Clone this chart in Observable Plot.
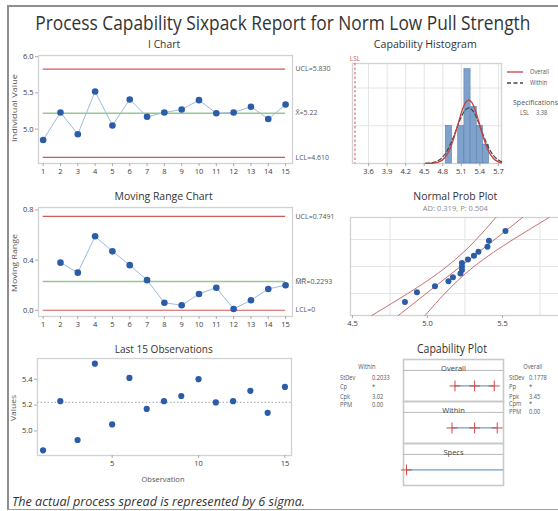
<!DOCTYPE html>
<html><head><meta charset="utf-8">
<script src="https://cdn.jsdelivr.net/npm/d3@7"></script>
<script src="https://cdn.jsdelivr.net/npm/@observablehq/plot@0.6"></script>
<style>
body{margin:0;background:#fff;}
#root{position:relative;width:558px;height:511px;overflow:hidden;background:#fff;font-family:"Open Sans",sans-serif;}
</style></head><body><div id="root"></div>
<script>
// ---------------- data ----------------
const observation = [1,2,3,4,5,6,7,8,9,10,11,12,13,14,15];
const individualValue = [4.85,5.23,4.93,5.52,5.05,5.41,5.17,5.23,5.27,5.40,5.22,5.23,5.31,5.14,5.34];
const movingRange = [null,0.38,0.30,0.59,0.47,0.36,0.24,0.06,0.04,0.13,0.18,0.01,0.08,0.17,0.20];
const iUCL = 5.830, iMean = 5.22, iLCL = 4.610;
const mrUCL = 0.7491, mrMean = 0.2293, mrLCL = 0;
const iYTicks = [5.0,5.5,6.0];
const mrYTicks = [0.0,0.4,0.8];
const lastYTicks = [5.0,5.2,5.4];
const lastXTicks = [5,10,15];

const histBinStart = [4.85,4.95,5.05,5.15,5.25,5.35,5.45];
const histCount = [2,0,2,5,3,2,1];
const histBinWidth = 0.1;
const histXTicks = [3.6,3.9,4.2,4.5,4.8,5.1,5.4,5.7];
const histYGrid = [2,4];
const curveX = [4.52,4.57,4.62,4.67,4.72,4.77,4.82,4.87,4.92,4.97,5.02,5.07,5.12,5.17,5.22,5.27,5.32,5.37,5.42,5.47,5.52,5.57,5.62,5.67,5.72,5.75];
const overallCurve = [0.0015,0.0042,0.0113,0.0282,0.0646,0.137,0.268,0.485,0.811,1.253,1.788,2.358,2.874,3.235,3.366,3.235,2.874,2.358,1.788,1.253,0.811,0.485,0.268,0.137,0.0646,0.0396];
const withinCurve = [0.0078,0.0177,0.0378,0.0758,0.143,0.254,0.425,0.669,0.991,1.382,1.815,2.242,2.608,2.856,2.944,2.856,2.608,2.242,1.815,1.382,0.991,0.669,0.425,0.254,0.143,0.0985];
const LSL = 3.38;

const probPercent = [4.55,11.04,17.53,24.03,30.52,37.01,43.51,50,56.49,62.99,69.48,75.97,82.47,88.96,95.45];
const bandPercent = [1,4,10,25,50,75,90,96,99];
const bandLower = [4.629,4.762,4.869,5.000,5.130,5.240,5.325,5.385,5.456];
const bandUpper = [4.984,5.055,5.116,5.201,5.310,5.440,5.571,5.678,5.811];
const fitPercent = [1,99];
const fitValue = [4.806,5.634];
const probXTicks = [4.5,5.0,5.5];
const probXGrid = [4.75,5.25,5.75];
const probYGrid = [10,50,90];

const capSection = ["Overall","Within","Specs"];
const capRowSection = ["Overall","Within"];
const capLow = [4.69,4.61];
const capMid = [5.22,5.22];
const capHigh = [5.75,5.83];

const withinLabels = ["StDev","Cp","Cpk","PPM"];
const withinValues = ["0.2033","*","3.02","0.00"];
const overallLabels = ["StDev","Pp","Ppk","Cpm","PPM"];
const overallValues = ["0.1778","*","3.45","*","0.00"];

// ---------------- helpers ----------------
const root = document.getElementById("root");
const FONT = "'Open Sans', sans-serif";
const RED = "#cf5a58", GREEN = "#97c78f", PT = "#2b5ca8", LINEB = "#9dbbdc", FRAME = "#d2d2d2", TXT = "#3a3a3a";
const TICKFS = 7.5;

function probit(p){
  const a=[-3.969683028665376e+01,2.209460984245205e+02,-2.759285104469687e+02,1.383577518672690e+02,-3.066479806614716e+01,2.506628277459239e+00];
  const b=[-5.447609879822406e+01,1.615858368580409e+02,-1.556989798598866e+02,6.680131188771972e+01,-1.328068155288572e+01];
  const c=[-7.784894002430293e-03,-3.223964580411365e-01,-2.400758277161838e+00,-2.549732539343734e+00,4.374664141464968e+00,2.938163982698783e+00];
  const d=[7.784695709041462e-03,3.224671290700398e-01,2.445134137142996e+00,3.754408661907416e+00];
  const pl=0.02425, ph=1-pl; let q,r;
  if(p<pl){q=Math.sqrt(-2*Math.log(p));return (((((c[0]*q+c[1])*q+c[2])*q+c[3])*q+c[4])*q+c[5])/((((d[0]*q+d[1])*q+d[2])*q+d[3])*q+1);}
  if(p<=ph){q=p-0.5;r=q*q;return (((((a[0]*r+a[1])*r+a[2])*r+a[3])*r+a[4])*r+a[5])*q/(((((b[0]*r+b[1])*r+b[2])*r+b[3])*r+b[4])*r+1);}
  q=Math.sqrt(-2*Math.log(1-p));return -(((((c[0]*q+c[1])*q+c[2])*q+c[3])*q+c[4])*q+c[5])/((((d[0]*q+d[1])*q+d[2])*q+d[3])*q+1);
}

function label(text, cx, cy, o={}){
  const {size=11, color="#333", width=null, sx=null, anchor="middle", italic=false, rotate=0} = o;
  const el = document.createElement("div");
  el.textContent = text;
  el.style.cssText = `position:absolute;white-space:nowrap;font-size:${size}px;line-height:1;color:${color};font-family:${FONT};${italic?"font-style:italic;":""}`;
  root.append(el);
  const r = el.getBoundingClientRect();
  const w = r.width, h = r.height;
  const k = width ? width / w : (sx || 1);
  const left = anchor==="middle" ? cx - w/2 : anchor==="start" ? cx : cx - w;
  el.style.left = left + "px";
  el.style.top = (cy - h/2) + "px";
  el.style.transformOrigin = anchor==="middle" ? "50% 50%" : anchor==="start" ? "0 50%" : "100% 50%";
  el.style.transform = `rotate(${rotate}deg) scaleX(${k})`;
  return el;
}

function place(svg, left, top){
  svg.style.position = "absolute";
  svg.style.left = left + "px";
  svg.style.top = top + "px";
  root.append(svg);
}
const baseStyle = {background:"transparent", maxWidth:"none", overflow:"visible", fontFamily:FONT, fontSize:"7px", color:TXT};

// ---------------- border ----------------
const border = document.createElement("div");
border.style.cssText = "position:absolute;left:7px;top:5px;width:570px;height:502px;border-left:2px solid #8e8e8e;border-top:2px solid #8e8e8e;border-bottom:1px solid #a0a0a0;";
root.append(border);

// ---------------- I chart ----------------
const idx = d3.range(observation.length);
const limitLabels = [
  {v:iUCL, t:`UCL=${d3.format(".3f")(iUCL)}`},
  {v:iMean, t:`X\u0304=${iMean}`},
  {v:iLCL, t:`LCL=${d3.format(".3f")(iLCL)}`}
];
place(Plot.plot({
  width:340, height:135, marginLeft:38, marginRight:48, marginTop:10, marginBottom:17,
  style: baseStyle,
  x:{domain:[0.73,15.4]}, y:{domain:[4.525,6.017]},
  marks:[
    Plot.frame({stroke:FRAME, strokeWidth:1.3}),
    Plot.axisY({ticks:iYTicks, tickFormat:".1f", tickSize:3, tickPadding:2, label:null, fontSize:TICKFS, stroke:"#aaa"}),
    Plot.axisX({ticks:observation, tickFormat:"d", tickSize:3, tickPadding:2, label:null, fontSize:TICKFS, stroke:"#aaa"}),
    Plot.ruleY([iUCL, iLCL], {x1:observation[0], x2:observation[14], stroke:RED, strokeWidth:1.2}),
    Plot.ruleY([iMean], {x1:observation[0], x2:observation[14], stroke:GREEN, strokeWidth:1.6}),
    Plot.line(idx, {x:i=>observation[i], y:i=>individualValue[i], stroke:LINEB, strokeWidth:1}),
    Plot.dot(idx, {x:i=>observation[i], y:i=>individualValue[i], r:3.3, fill:PT}),
    Plot.text(limitLabels, {x:()=>15.4, y:"v", text:"t", dx:3, textAnchor:"start", fontSize:7, fill:"#555"})
  ]
}), 0, 45);

// ---------------- Moving Range chart ----------------
const mrIdx = idx.filter(i => movingRange[i] != null);
const mrLabels = [
  {v:mrUCL, t:`UCL=${mrUCL}`},
  {v:mrMean, t:`M\u0305R\u0305=${mrMean}`},
  {v:mrLCL, t:`LCL=${mrLCL}`}
];
place(Plot.plot({
  width:340, height:136, marginLeft:38, marginRight:48, marginTop:10, marginBottom:17,
  style: baseStyle,
  x:{domain:[0.73,15.4]}, y:{domain:[-0.05,0.82]},
  marks:[
    Plot.frame({stroke:FRAME, strokeWidth:1.3}),
    Plot.axisY({ticks:mrYTicks, tickFormat:".1f", tickSize:3, tickPadding:2, label:null, fontSize:TICKFS, stroke:"#aaa"}),
    Plot.axisX({ticks:observation, tickFormat:"d", tickSize:3, tickPadding:2, label:null, fontSize:TICKFS, stroke:"#aaa"}),
    Plot.ruleY([mrUCL, mrLCL], {x1:observation[0], x2:observation[14], stroke:RED, strokeWidth:1.2}),
    Plot.ruleY([mrMean], {x1:observation[0], x2:observation[14], stroke:GREEN, strokeWidth:1.4}),
    Plot.line(mrIdx, {x:i=>observation[i], y:i=>movingRange[i], stroke:LINEB, strokeWidth:1}),
    Plot.dot(mrIdx, {x:i=>observation[i], y:i=>movingRange[i], r:3.3, fill:PT}),
    Plot.text(mrLabels, {x:()=>15.4, y:"v", text:"t", dx:3, textAnchor:"start", fontSize:7, fill:"#555"})
  ]
}), 0, 197);

// ---------------- Last 15 observations ----------------
place(Plot.plot({
  width:340, height:130, marginLeft:37, marginRight:49, marginTop:10, marginBottom:23,
  style: baseStyle,
  x:{domain:[0.68,15.38]}, y:{domain:[4.81,5.56]},
  marks:[
    Plot.frame({stroke:FRAME, strokeWidth:1.3}),
    Plot.axisY({ticks:lastYTicks, tickFormat:".1f", tickSize:3, tickPadding:2, label:null, fontSize:TICKFS, stroke:"#aaa"}),
    Plot.axisX({ticks:lastXTicks, tickFormat:"d", tickSize:3, tickPadding:2, label:null, fontSize:TICKFS, stroke:"#aaa"}),
    Plot.ruleY([iMean], {stroke:"#b5b5b5", strokeWidth:1.3, strokeDasharray:"1.5,2"}),
    Plot.dot(idx, {x:i=>observation[i], y:i=>individualValue[i], r:3.1, fill:PT})
  ]
}), 0, 348);

// ---------------- Capability histogram ----------------
const hIdx = d3.range(histBinStart.length).filter(i => histCount[i] > 0);
const cIdx = d3.range(curveX.length);
place(Plot.plot({
  width:228, height:130, marginLeft:22, marginRight:57, marginTop:13, marginBottom:17,
  style: baseStyle,
  x:{domain:[3.34,5.75]}, y:{domain:[0,5.3], axis:null},
  marks:[
    Plot.gridX(histXTicks, {stroke:"#e4e4e4", strokeOpacity:1}),
    Plot.gridY(histYGrid, {stroke:"#e4e4e4", strokeOpacity:1}),
    Plot.frame({stroke:FRAME, strokeWidth:1.3}),
    Plot.axisX({ticks:histXTicks, tickFormat:".1f", tickSize:3, tickPadding:2, label:null, fontSize:TICKFS, stroke:"#aaa"}),
    Plot.rectY(hIdx, {x1:i=>histBinStart[i], x2:i=>histBinStart[i]+histBinWidth, y:i=>histCount[i], fill:"#7fa2cd", stroke:"#5c80ad", strokeWidth:0.6}),
    Plot.ruleX([LSL], {stroke:RED, strokeWidth:1, strokeDasharray:"2.5,2"}),
    Plot.text([LSL], {x:d=>d, y:()=>5.3, text:()=>"LSL", dy:-5, fontSize:6.5, fill:RED}),
    Plot.line(cIdx, {x:i=>curveX[i], y:i=>withinCurve[i], stroke:"#454545", strokeWidth:1.2, strokeDasharray:"4,2.5", curve:"catmull-rom"}),
    Plot.line(cIdx, {x:i=>curveX[i], y:i=>overallCurve[i], stroke:"#c8403e", strokeWidth:1.3, curve:"catmull-rom"})
  ]
}), 330, 50);

// legend (HTML)
function swatch(x, y, dash, color){
  const ns = "http://www.w3.org/2000/svg";
  const s = document.createElementNS(ns, "svg");
  s.setAttribute("width", 16); s.setAttribute("height", 4);
  s.style.cssText = `position:absolute;left:${x}px;top:${y-2}px;`;
  const l = document.createElementNS(ns, "line");
  l.setAttribute("x1", 0); l.setAttribute("x2", 16); l.setAttribute("y1", 2); l.setAttribute("y2", 2);
  l.setAttribute("stroke", color); l.setAttribute("stroke-width", 1.3);
  if (dash) l.setAttribute("stroke-dasharray", dash);
  s.append(l); root.append(s);
}
const SM = {size:6.5, color:"#555", anchor:"start", sx:0.88};
swatch(507, 72, null, "#c8403e");
swatch(507, 83, "4,2.5", "#454545");
label("Overall", 530, 72, SM);
label("Within", 530, 83, SM);
label("Specifications", 513, 103, {...SM, width:45});
label("LSL", 520, 113, SM);
label(String(LSL), 536, 113, SM);

// ---------------- Normal probability plot ----------------
const sortedValues = d3.sort(individualValue);
const pIdx = d3.range(sortedValues.length);
const bIdx = d3.range(bandPercent.length);
const zTop = probit(0.99), zBot = probit(0.01);
place(Plot.plot({
  width:252, height:132, marginLeft:20, marginRight:10, marginTop:17, marginBottom:17,
  style: baseStyle,
  x:{domain:[4.487,5.967]}, y:{domain:[zBot,zTop], axis:null},
  marks:[
    Plot.gridX(probXGrid, {stroke:"#e4e4e4", strokeOpacity:1}),
    Plot.gridY(probYGrid.map(p=>probit(p/100)), {stroke:"#e4e4e4", strokeOpacity:1}),
    Plot.frame({stroke:FRAME, strokeWidth:1.3}),
    Plot.axisX({ticks:probXTicks, tickFormat:".1f", tickSize:3, tickPadding:2, label:null, fontSize:TICKFS, stroke:"#aaa"}),
    Plot.line(bIdx, {x:i=>bandLower[i], y:i=>probit(bandPercent[i]/100), stroke:"#c06060", strokeWidth:0.9, curve:"catmull-rom"}),
    Plot.line(bIdx, {x:i=>bandUpper[i], y:i=>probit(bandPercent[i]/100), stroke:"#c06060", strokeWidth:0.9, curve:"catmull-rom"}),
    Plot.line([0,1], {x:i=>fitValue[i], y:i=>probit(fitPercent[i]/100), stroke:"#c06060", strokeWidth:0.9}),
    Plot.dot(pIdx, {x:i=>sortedValues[i], y:i=>probit(probPercent[i]/100), r:3, fill:PT})
  ]
}), 330, 200);

// ---------------- Capability plot ----------------
const capRows = capRowSection.map((s,i)=>({s, lo:capLow[i], hi:capHigh[i]}));
capRows.push({s:"Specs", lo:LSL, hi:6.0});
const capPts = [];
capRowSection.forEach((s,i)=>{ capPts.push({s, x:capLow[i]}, {s, x:capMid[i]}, {s, x:capHigh[i]}); });
capPts.push({s:"Specs", x:LSL});
place(Plot.plot({
  width:102, height:129, marginLeft:1, marginRight:1, marginTop:1, marginBottom:1,
  style: baseStyle,
  x:{domain:[3.3,6.0], axis:null}, y:{domain:[0,1], axis:null},
  fy:{domain:capSection, axis:null, padding:0},
  marks:[
    Plot.frame({stroke:"#c9c9c9", strokeWidth:1.6}),
    Plot.ruleY(capSection, {fy:d=>d, y:()=>0.74, stroke:"#b8b8b8", strokeWidth:1}),
    Plot.text(capSection, {fy:d=>d, text:d=>d, frameAnchor:"top", dy:6, fontSize:7.5, fill:"#444"}),
    Plot.ruleY(capRows, {fy:"s", y:()=>0.37, x1:"lo", x2:"hi", stroke:"#6e9bd2", strokeWidth:1.3}),
    Plot.dot(capPts, {fy:"s", x:"x", y:()=>0.37, symbol:"plus", r:3.6, stroke:"#d24545", strokeWidth:1})
  ]
}), 402, 357);

// stats text
label("Within", 367, 367, {size:6.5, color:"#555", sx:0.88});
const wY = [378, 387.5, 397.5, 405.5];
withinLabels.forEach((t,i)=>{ label(t, 340, wY[i], SM); label(withinValues[i], 372, wY[i], SM); });
label("Overall", 533, 367, {size:6.5, color:"#555", sx:0.88});
const oY = [378, 387.5, 397, 404.5, 412];
overallLabels.forEach((t,i)=>{ label(t, 509, oY[i], SM); label(overallValues[i], 529, oY[i], SM); });

// ---------------- titles & axis labels ----------------
label("Process Capability Sixpack Report for Norm Low Pull Strength", 282.5, 22, {size:20.5, color:"#333", width:495});
label("I Chart", 164, 43, {size:11, width:32});
label("Capability Histogram", 425.5, 43, {size:11, width:103});
label("Moving Range Chart", 164, 195, {size:11, width:98});
label("Normal Prob Plot", 455, 195, {size:11, width:84});
label("AD: 0.319, P: 0.504", 455, 209, {size:7.5, color:"#8a8a8a", width:65});
label("Last 15 Observations", 164, 348, {size:11, width:98});
label("Capability Plot", 452, 349, {size:12, width:70});
label("Individual Value", 14, 108, {size:8, color:"#555", width:68, rotate:-90});
label("Moving Range", 14, 263, {size:8, color:"#555", width:58, rotate:-90});
label("Values", 13, 408, {size:8, color:"#555", width:26, rotate:-90});
label("Observation", 163.5, 479, {size:7, color:"#555", width:43});
label("The actual process spread is represented by 6 sigma.", 12, 502, {size:12.5, color:"#333", width:293, anchor:"start", italic:true});
</script></body></html>
